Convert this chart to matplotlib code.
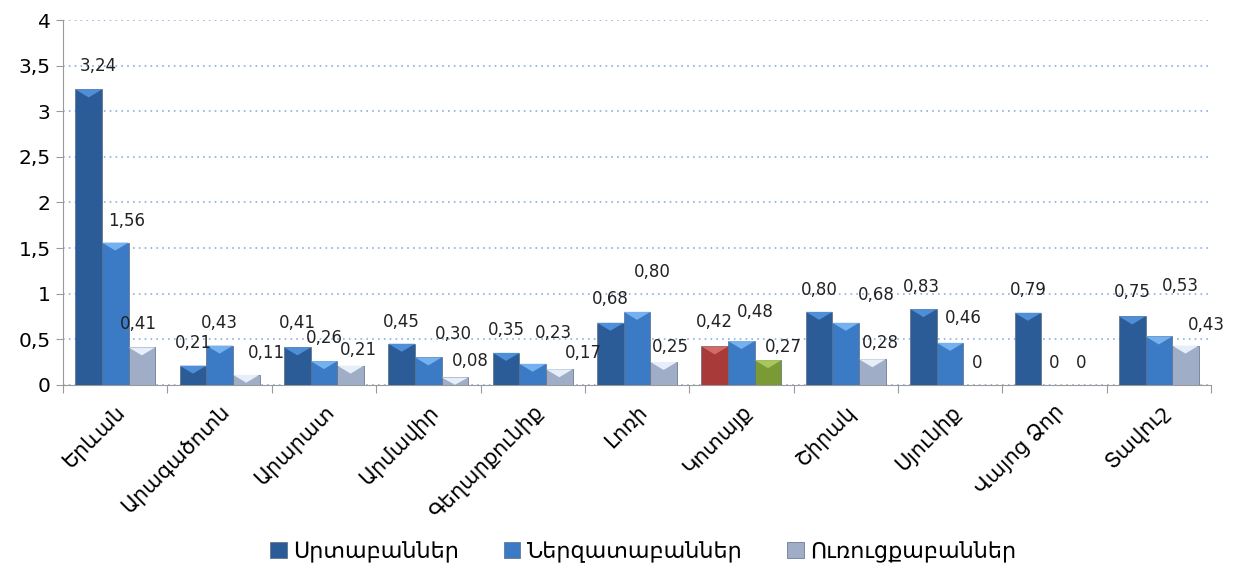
import numpy as np
import matplotlib
matplotlib.use('Agg')
import matplotlib.pyplot as plt
from matplotlib.patches import Polygon

plt.rcParams['font.family'] = ['DejaVu Sans']

# --- data ---
regions = ['Երևան', 'Արագածոտն', 'Արարատ', 'Արմավիր', 'Գեղարքունիք', 'Լոռի',
           'Կոտայք', 'Շիրակ', 'Սյունիք', 'Վայոց Ձոր', 'Տավուշ']
series_names = ['Սրտաբաններ', 'Ներզատաբաններ', 'Ուռուցքաբաններ']
cardio = [3.24, 0.21, 0.41, 0.45, 0.35, 0.68, 0.42, 0.80, 0.83, 0.79, 0.75]
endo = [1.56, 0.43, 0.26, 0.30, 0.23, 0.80, 0.48, 0.68, 0.46, 0.00, 0.53]
onco = [0.41, 0.11, 0.21, 0.08, 0.17, 0.25, 0.27, 0.28, 0.00, 0.00, 0.43]
y_ticks = [0, 0.5, 1, 1.5, 2, 2.5, 3, 3.5, 4]

# --- styling ---
body_colors = ['#2b5c97', '#3b7bc6', '#a0adc6']
top_colors = ['#4f8fd8', '#74b1ee', '#e6eefa']
# Kotayk bars are coloured differently in the original
special_idx = 6
special_body = ['#a83b3a', '#3b7bc6', '#7a9a36']
special_top = ['#d36a66', '#74b1ee', '#a8c760']

# label offsets in pixels (dx, dy above bar top), per series per region
offsets = [
    [(10, 23), (0, 23), (0, 24), (0, 22), (0, 23), (0, 24), (0, 24), (0, 22), (-2, 22), (0, 23), (0, 24)],
    [(11, 22), (0, 23), (0, 23), (25, 23), (21, 31), (15, 40), (14, 29), (31, 28), (13, 25), (0, 22), (22, 50)],
    [(-4, 23), (20, 22), (8, 16), (15, 16), (24, 16), (7, 15), (15, 13), (8, 16), (0, 22), (0, 22), (21, 21)],
]

fig = plt.figure(figsize=(12.37, 5.76), dpi=100)
ax = fig.add_axes([0.051, 0.332, 0.928, 0.633])

x = np.arange(len(regions))
width = 0.255
all_series = [cardio, endo, onco]
ppu = 0.633 * 576 / 4.0  # pixels per data unit on y

for s, vals in enumerate(all_series):
    cols = [special_body[s] if i == special_idx else body_colors[s] for i in range(len(regions))]
    lws = [0.5 if v > 0 else 0 for v in vals]
    bars = ax.bar(x + (s - 1) * width, vals, width, color=cols, edgecolor='#5a6b82',
                  linewidth=lws, label=series_names[s], zorder=3)
    for i, b in enumerate(bars):
        h = b.get_height()
        if h > 0:
            tri_h = min(8 / ppu, h)
            tc = special_top[s] if i == special_idx else top_colors[s]
            bx, bw = b.get_x(), b.get_width()
            ax.add_patch(Polygon([(bx, h), (bx + bw, h), (bx + bw / 2, h - tri_h)],
                                 closed=True, facecolor=tc, edgecolor='none', zorder=4))
        lbl = '0' if vals[i] == 0 else f'{vals[i]:.2f}'.replace('.', ',')
        dx, dy = offsets[s][i]
        ax.annotate(lbl, (b.get_x() + b.get_width() / 2, h), xytext=(dx, dy),
                    textcoords='offset pixels', ha='center', va='center',
                    fontsize=12, color='#222222', zorder=5)

ax.set_xlim(-0.5, len(regions) - 0.5)
ax.set_ylim(0, 4)
ax.set_yticks(y_ticks)
ax.set_yticklabels([f'{t:g}'.replace('.', ',') for t in y_ticks], fontsize=14.5)
ax.yaxis.grid(True, linestyle=(0, (1, 2.5)), color='#8eaee0', linewidth=1.2)
ax.set_axisbelow(True)

ax.set_xticks(np.arange(len(regions) + 1) - 0.5, minor=False)
ax.set_xticklabels([])
ax.set_xticks(x, minor=True)
ax.set_xticklabels(regions, minor=True, rotation=45, ha='right', va='top',
                   rotation_mode='anchor', fontsize=15)
ax.tick_params(axis='x', which='minor', length=0, pad=12)
ax.tick_params(axis='x', which='major', length=6, color='#9a9a9a')
ax.tick_params(axis='y', length=5, color='#9a9a9a', pad=4)

for side in ['top', 'right']:
    ax.spines[side].set_visible(False)
ax.spines['left'].set_color('#9a9a9a')
ax.spines['bottom'].set_color('#9a9a9a')

fig.legend(loc='lower center', bbox_to_anchor=(0.52, -0.012), ncol=3, frameon=False,
           fontsize=16, handlelength=0.75, handleheight=0.75, handletextpad=0.3,
           columnspacing=2.0)

fig.savefig('out.png', dpi=100)
